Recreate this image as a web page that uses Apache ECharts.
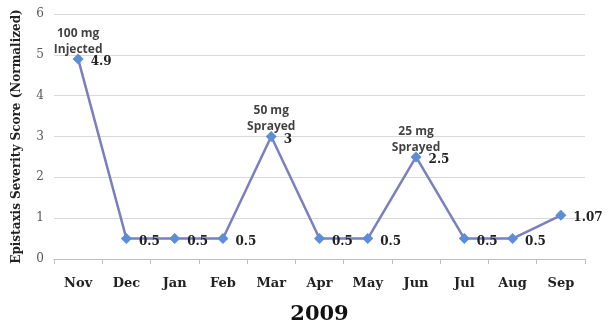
<!DOCTYPE html>
<html>
<head>
<meta charset="utf-8">
<script src="https://cdn.jsdelivr.net/npm/echarts@6/dist/echarts.min.js"></script>
<style>
  html, body { margin: 0; padding: 0; background: #fff; }
  #chart { width: 615px; height: 323px; }
</style>
</head>
<body>
<div id="chart"></div>
<script>
// months of treatment follow-up
const months = ['Nov', 'Dec', 'Jan', 'Feb', 'Mar', 'Apr', 'May', 'Jun', 'Jul', 'Aug', 'Sep']
const scores = [4.9, 0.5, 0.5, 0.5, 3, 0.5, 0.5, 2.5, 0.5, 0.5, 1.07]
// dose notes shown above the peaks
const notes = ['100 mg\nInjected', '', '', '', '50 mg\nSprayed', '', '', '25 mg\nSprayed', '', '', '']
const yTicks = [0, 1, 2, 3, 4, 5, 6]

const chart = echarts.init(document.getElementById('chart'))

const serif = 'DejaVu Serif'

chart.setOption({
  animation: false,
  grid: { left: 54, right: 30, top: 14, bottom: 64, outerBoundsMode: 'none' },
  xAxis: {
    type: 'category',
    data: months,
    boundaryGap: true,
    name: '2009',
    nameLocation: 'middle',
    nameGap: 45,
    nameTextStyle: { fontFamily: serif, fontWeight: 'bold', fontSize: 21, color: '#111' },
    axisLine: { lineStyle: { color: '#bfbfbf', width: 1 } },
    axisTick: { show: true, length: 5, lineStyle: { color: '#bfbfbf' } },
    axisLabel: { fontFamily: serif, fontWeight: 'bold', fontSize: 13, color: '#222', margin: 18 }
  },
  yAxis: {
    type: 'value',
    min: yTicks[0],
    max: yTicks[yTicks.length - 1],
    interval: 1,
    name: 'Epistaxis Severity Score (Normalized)',
    nameLocation: 'middle',
    nameGap: 31,
    nameTextStyle: { fontFamily: serif, fontWeight: 'bold', fontSize: 12, color: '#222' },
    axisLine: { show: false },
    axisTick: { show: false },
    splitLine: { lineStyle: { color: '#d9d9d9', width: 1 } },
    axisLabel: { fontFamily: serif, fontSize: 12, color: '#595959', margin: 10 }
  },
  series: [
    {
      type: 'line',
      data: scores,
      symbol: 'diamond',
      symbolSize: 11,
      lineStyle: { color: '#7a7fc0', width: 2.5 },
      itemStyle: { color: '#5b8ed6' },
      label: {
        show: true,
        position: 'right',
        distance: 7,
        offset: [0, 3],
        fontFamily: serif,
        fontWeight: 'bold',
        fontSize: 12,
        color: '#222'
      },
      z: 3
    },
    {
      type: 'scatter',
      data: scores,
      symbolSize: 1,
      itemStyle: { color: 'rgba(0,0,0,0)' },
      label: {
        show: true,
        position: 'top',
        distance: 1,
        lineHeight: 16,
        fontFamily: 'Open Sans',
        fontWeight: 'bold',
        fontSize: 12,
        color: '#111',
        formatter: p => notes[p.dataIndex]
      },
      silent: true,
      z: 4
    }
  ]
})
</script>
</body>
</html>
